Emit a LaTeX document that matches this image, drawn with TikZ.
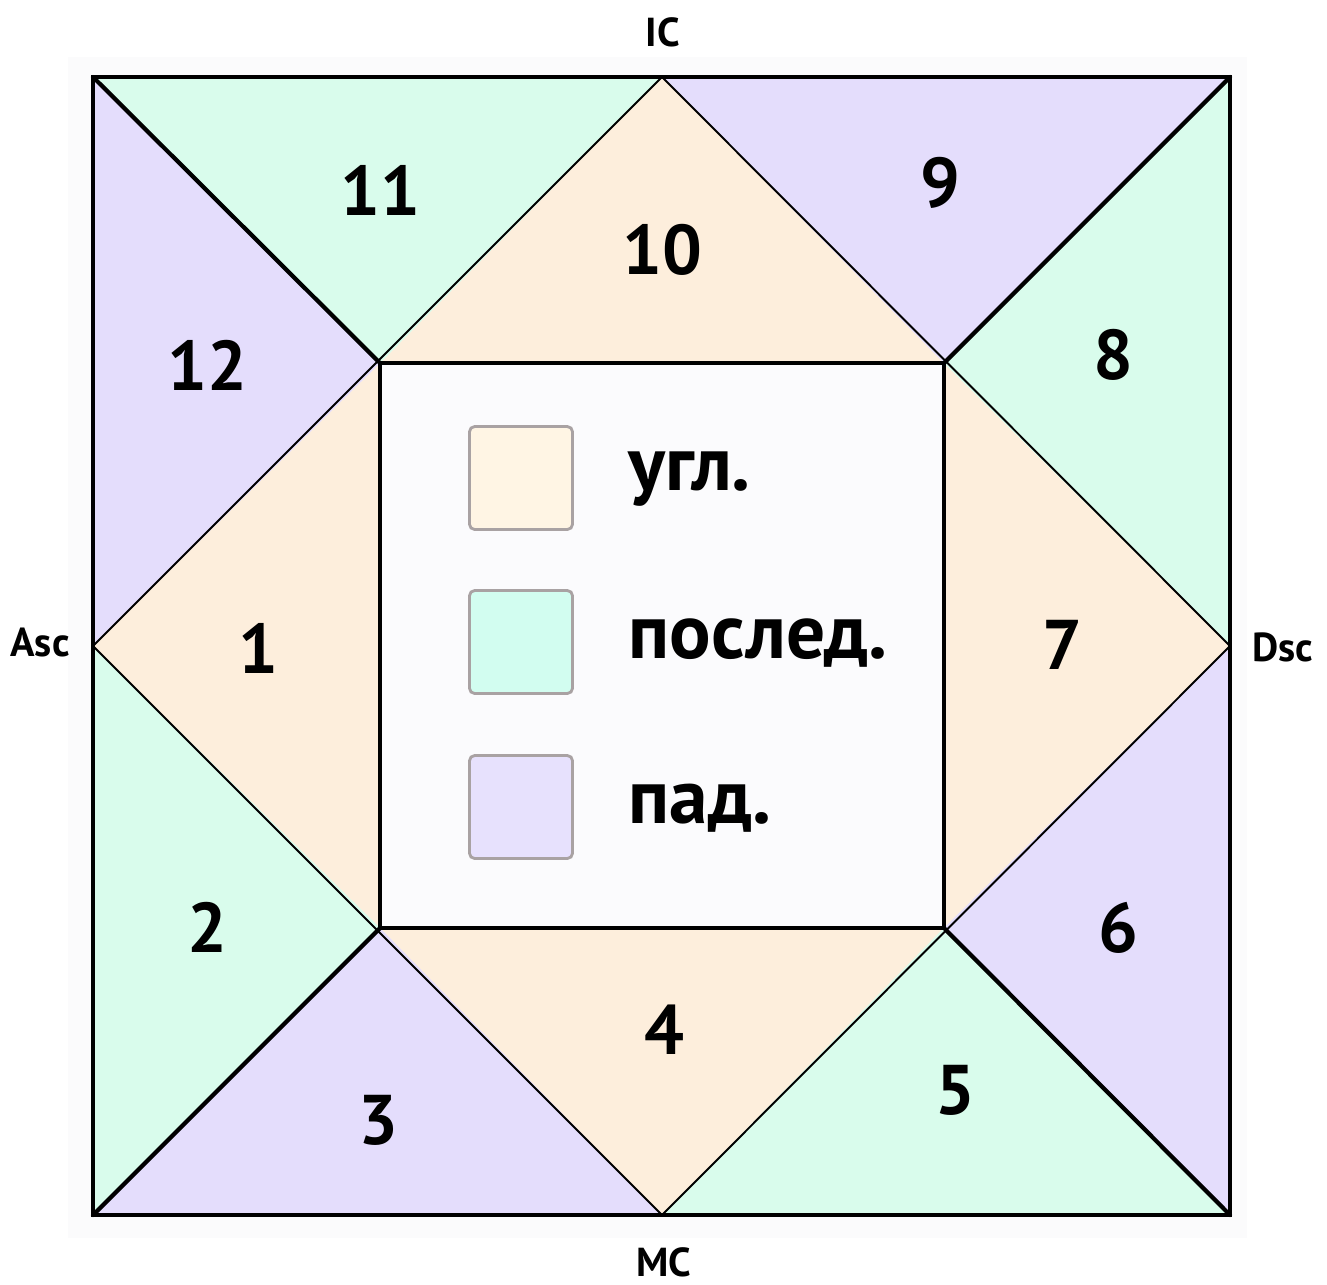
\documentclass[tikz,border=0pt]{standalone}
\usepackage{fontspec}
\setmainfont{PT Sans}
\usetikzlibrary{positioning}

\definecolor{angcol}{HTML}{FDEEDC}
\definecolor{succol}{HTML}{D9FCEC}
\definecolor{cadcol}{HTML}{E4DDFC}
\definecolor{swpeach}{HTML}{FFF5E4}
\definecolor{swgreen}{HTML}{D2FDF0}
\definecolor{swpurple}{HTML}{E7E1FD}
\definecolor{edgegray}{HTML}{A9A2A3}
\definecolor{backcol}{HTML}{FBFBFC}
\definecolor{centcol}{HTML}{FBFBFD}

\begin{document}
\begin{tikzpicture}[
        x=0.01cm, y=-0.01cm,
        rhomb/.style={draw=black, line width=0.55pt, line join=round},
        heavy/.style={draw=black, line width=1.2pt, line cap=round},
        num/.style={font=\fontsize{20}{24}\selectfont\bfseries, inner sep=0pt},
        axislabel/.style={font=\fontsize{11.5}{13}\selectfont\bfseries, inner sep=0pt},
        swatch/.style={draw=edgegray, line width=0.8pt, rounded corners=1.5pt, minimum size=1.03cm, inner sep=0pt},
        legtext/.style={font=\fontsize{22}{26}\selectfont\bfseries, inner sep=0pt, anchor=base west}
    ]
        \useasboundingbox (0,0) rectangle (1327,1284);
        \fill[backcol] (68,57) rectangle (1247,1238);

        % Corners of the chart
        \coordinate (TL) at (93,77);
        \coordinate (TR) at (1230,77);
        \coordinate (BR) at (1230,1215);
        \coordinate (BL) at (93,1215);
        \coordinate (T) at (662,77);
        \coordinate (B) at (662,1215);
        \coordinate (L) at (93,646);
        \coordinate (R) at (1230,646);
        \coordinate (iTL) at (380,363);
        \coordinate (iTR) at (944,363);
        \coordinate (iBR) at (944,928);
        \coordinate (iBL) at (380,928);

        % Angular houses
        \fill[angcol] (iTL) -- (T) -- (iTR) -- cycle;
        \fill[angcol] (iTR) -- (R) -- (iBR) -- cycle;
        \fill[angcol] (iBR) -- (B) -- (iBL) -- cycle;
        \fill[angcol] (iBL) -- (L) -- (iTL) -- cycle;

        % Succedent houses
        \fill[succol] (TL) -- (T) -- (iTL) -- cycle;
        \fill[succol] (TR) -- (R) -- (iTR) -- cycle;
        \fill[succol] (BR) -- (B) -- (iBR) -- cycle;
        \fill[succol] (BL) -- (L) -- (iBL) -- cycle;

        % Cadent houses
        \fill[cadcol] (TL) -- (L) -- (iTL) -- cycle;
        \fill[cadcol] (TR) -- (T) -- (iTR) -- cycle;
        \fill[cadcol] (BR) -- (R) -- (iBR) -- cycle;
        \fill[cadcol] (BL) -- (B) -- (iBL) -- cycle;

        % Centre
        \fill[centcol] (iTL) rectangle (iBR);

        % Lines
        \draw[rhomb] (T) -- (R) -- (B) -- (L) -- cycle;
        \draw[heavy] (TL) -- (iTL);
        \draw[heavy] (TR) -- (iTR);
        \draw[heavy] (BR) -- (iBR);
        \draw[heavy] (BL) -- (iBL);
        \draw[draw=black, line width=0.95pt] (iTL) rectangle (iBR);
        \draw[heavy, line cap=butt, line join=miter] (TL) rectangle (BR);

        % House numbers
        \foreach \n/\px/\py in {1/258/648, 2/207/927, 3/378/1120, 4/664/1030,
                                5/955/1090, 6/1118/928, 7/1062/645, 8/1113/355,
                                9/940/183, 10/662/250, 11/380/190, 12/207/365}
            \node[num] (h\n) at (\px,\py) {\n};

        % Axis points
        \node[axislabel] (ic) at (663,32) {IC};
        \node[axislabel] (mc) at (664,1262) {MC};
        \node[axislabel] (asc) at (40,643) {Asc};
        \node[axislabel] (dsc) at (1283,647) {Dsc};

        % Legend
        \node[swatch, fill=swpeach] (swA) at (521,478) {};
        \node[swatch, fill=swgreen] (swS) at (521,642) {};
        \node[swatch, fill=swpurple] (swC) at (521,807) {};
        \node[legtext] (tA) at (628,490) {угл.};
        \node[legtext] (tS) at (628,658) {послед.};
        \node[legtext] (tC) at (628,823) {пад.};

    \end{tikzpicture}
\end{document}
